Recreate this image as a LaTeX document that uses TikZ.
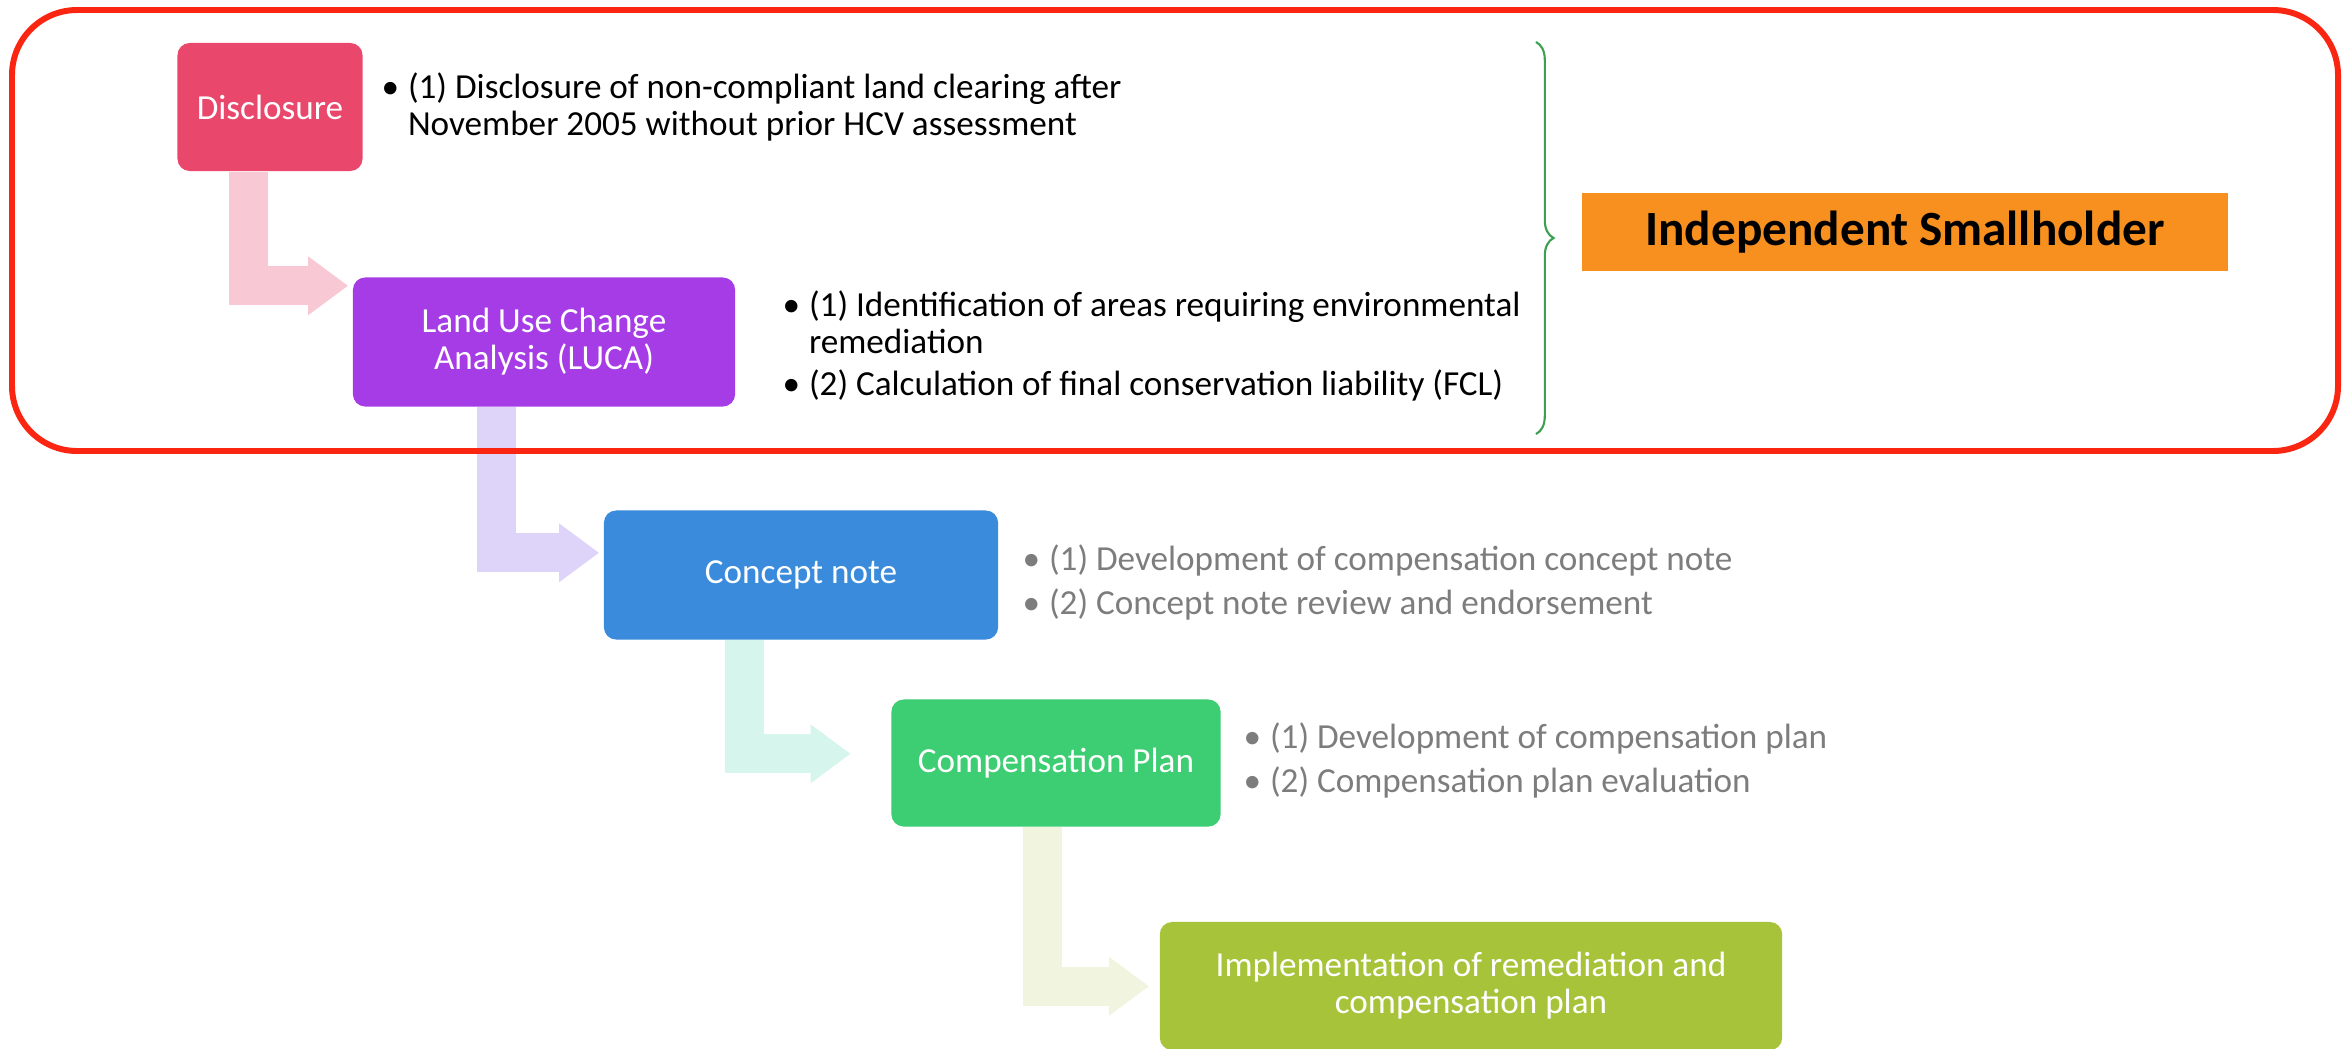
\documentclass[tikz,border=0pt]{standalone}
\usepackage{fontspec}
\setmainfont{Carlito}
\usetikzlibrary{arrows.meta,positioning,calc,decorations.pathreplacing}

\definecolor{disclosurered}{RGB}{233,72,108}
\definecolor{lucapurple}{RGB}{165,60,230}
\definecolor{conceptblue}{RGB}{58,139,219}
\definecolor{compgreen}{RGB}{61,205,114}
\definecolor{implolive}{RGB}{166,195,58}
\definecolor{holderorange}{RGB}{247,144,30}
\definecolor{framered}{RGB}{250,38,18}
\definecolor{bracegreen}{RGB}{60,160,80}
\definecolor{softgray}{RGB}{125,125,125}
\definecolor{arrowpink}{RGB}{248,200,212}
\definecolor{arrowlilac}{RGB}{222,212,250}
\definecolor{arrowmint}{RGB}{214,245,236}
\definecolor{arrowolive}{RGB}{241,244,222}

\tikzset{
  stepbox/.style={rounded corners=3.5pt, text=white, align=center, inner sep=2pt,
    font=\fontsize{10}{10.5}\selectfont},
  bullets/.style={anchor=west, inner sep=0pt, font=\fontsize{10}{10.5}\selectfont},
  bentarrow/.style={line width=0.39cm, -{Triangle[length=0.4cm,width=0.56cm]}, shorten >=0.04cm},
}

\begin{document}
\begin{tikzpicture}[x=0.01cm, y=-0.01cm]
  \useasboundingbox (0,0) rectangle (2351,1048);

  % process steps
  \node[stepbox, fill=disclosurered, minimum width=1.85cm, minimum height=1.28cm] (disc) at (270,107) {Disclosure};
  \node[stepbox, fill=lucapurple, minimum width=3.82cm, minimum height=1.29cm] (luca) at (544,342) {Land Use Change\\Analysis (LUCA)};
  \node[stepbox, fill=conceptblue, minimum width=3.94cm, minimum height=1.29cm] (concept) at (801,575) {Concept note};
  \node[stepbox, fill=compgreen, minimum width=3.29cm, minimum height=1.27cm] (comp) at (1056,763) {Compensation Plan};
  \node[stepbox, fill=implolive, minimum width=6.22cm, minimum height=1.28cm] (impl) at (1471,986) {Implementation of remediation and\\compensation plan};

  % bullet texts
  \node[bullets] (disctext) at (381,110) {\begin{tabular}{@{}l@{\hspace{2.5pt}}l@{}}
    \textbullet & (1) Disclosure of non-compliant land clearing after\\
                & November 2005 without prior HCV assessment
  \end{tabular}};
  \node[bullets] (lucatext) at (782,349) {\begin{tabular}{@{}l@{\hspace{2.5pt}}l@{}}
    \textbullet & (1) Identification of areas requiring environmental\\
                & remediation\\[1.5pt]
    \textbullet & (2) Calculation of final conservation liability (FCL)
  \end{tabular}};
  \node[bullets, text=softgray] (concepttext) at (1022,585) {\begin{tabular}{@{}l@{\hspace{2.5pt}}l@{}}
    \textbullet & (1) Development of compensation concept note\\[2.2pt]
    \textbullet & (2) Concept note review and endorsement
  \end{tabular}};
  \node[bullets, text=softgray] (comptext) at (1243,763) {\begin{tabular}{@{}l@{\hspace{2.5pt}}l@{}}
    \textbullet & (1) Development of compensation plan\\[1.8pt]
    \textbullet & (2) Compensation plan evaluation
  \end{tabular}};

  % who carries it out
  \node[fill=holderorange, minimum width=6.45cm, minimum height=0.77cm, font=\fontsize{14}{16}\selectfont\bfseries] (holder) at (1905,232) {Independent Smallholder};
  \coordinate (bracetop) at (1536,42);
  \coordinate (bracebot) at (1536,434);
  \draw[bracegreen, line width=0.6pt, decorate, decoration={brace, amplitude=5pt}] (bracetop) -- (bracebot);

  % bent arrows between steps
  \draw[bentarrow, arrowpink] ([xshift=0.72cm]disc.south west) |- ([yshift=-0.09cm]luca.north west);
  \draw[bentarrow, arrowlilac] ([xshift=1.44cm]luca.south west) |- ([yshift=-0.43cm]concept.north west);
  \draw[bentarrow, arrowmint, shorten >=0.4cm] ([xshift=1.41cm]concept.south west) |- ([yshift=-0.55cm]comp.north west);
  \draw[bentarrow, arrowolive, shorten >=0.1cm] ([xshift=1.52cm]comp.south west) |- ([yshift=-0.65cm]impl.north west);

  % smallholder frame
  \draw[framered, line width=1.7pt, rounded corners=0.65cm] (12,10) rectangle (2338,451);
\end{tikzpicture}
\end{document}
